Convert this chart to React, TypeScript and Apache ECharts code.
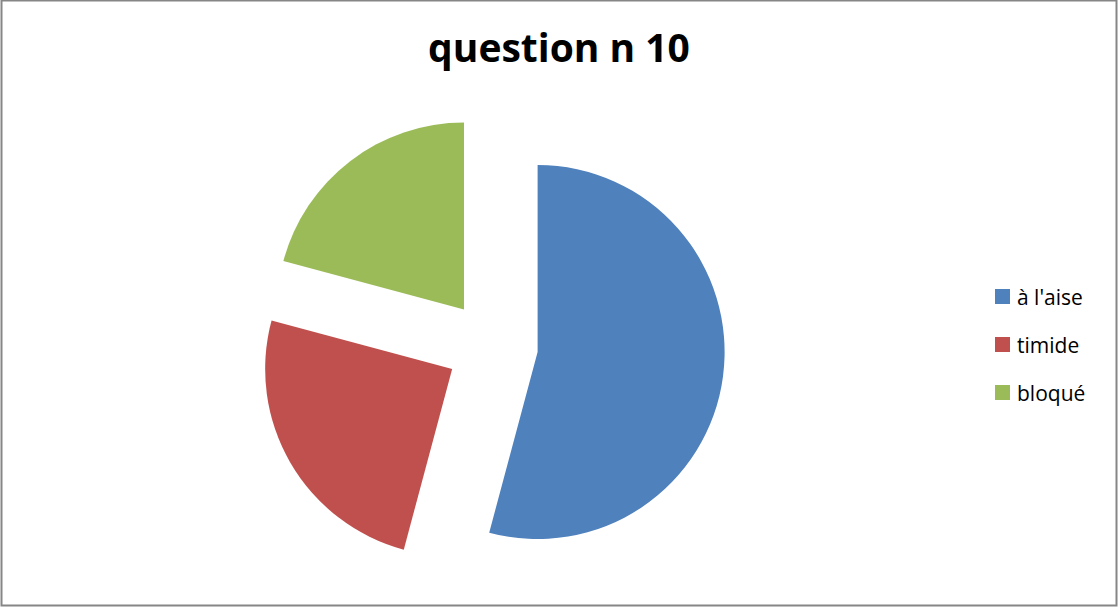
import React, { useEffect, useRef } from "react";
import * as echarts from "echarts";

const categories = ["à l'aise", "timide", "bloqué"];
const values = [13, 6, 5];
const colors = ["#4F81BD", "#C0504D", "#9BBB59"];
const titleText = "question n 10";

export default function App() {
  const ref = useRef<HTMLDivElement>(null);
  useEffect(() => {
    if (!ref.current) return;
    const chart = echarts.init(ref.current, null, { renderer: "svg" });
    chart.setOption({
      animation: false,
      backgroundColor: "#ffffff",
      title: {
        text: titleText,
        left: "center",
        top: 27,
        padding: 0,
        textStyle: { fontFamily: "Open Sans", fontWeight: "bold", fontSize: 39, color: "#000000" },
      },
      legend: {
        orient: "vertical",
        left: 995,
        top: 286,
        padding: 0,
        itemWidth: 15,
        itemHeight: 15,
        itemGap: 27,
        icon: "rect",
        selectedMode: false,
        textStyle: { fontFamily: "Open Sans", fontSize: 21, color: "#000000", padding: [0, 0, 0, 2] },
        data: categories,
      },
      graphic: [
        {
          type: "rect",
          shape: { x: 1.5, y: 0.5, width: 1115, height: 605 },
          style: { fill: "none", stroke: "#868686", lineWidth: 2 },
          silent: true,
        },
      ],
      series: [
        {
          type: "pie",
          center: [492, 346],
          radius: [0, 187],
          startAngle: 90,
          clockwise: true,
          selectedMode: "multiple",
          selectedOffset: 46,
          label: { show: false },
          labelLine: { show: false },
          emphasis: { disabled: true },
          select: { itemStyle: {} },
          itemStyle: { borderWidth: 0 },
          data: categories.map((name, i) => ({
            name,
            value: values[i],
            selected: true,
            itemStyle: { color: colors[i] },
          })),
        },
      ],
    });
    return () => chart.dispose();
  }, []);
  return (
    <div
      ref={ref}
      style={{ position: "absolute", left: 0, top: 0, width: 1118, height: 608 }}
    />
  );
}
